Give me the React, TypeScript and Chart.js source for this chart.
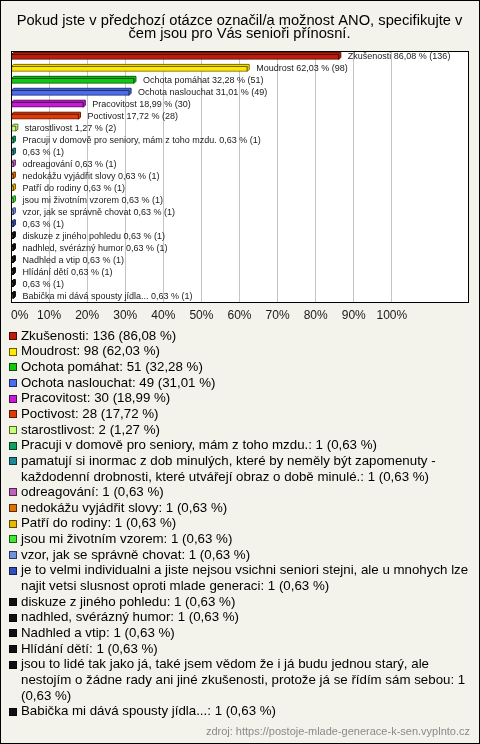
import React, { useEffect, useRef } from 'react';
import { Chart, registerables } from 'chart.js';

Chart.register(...registerables);

const titleLines = [
  'Pokud jste v předchozí otázce označil/a možnost ANO, specifikujte v',
  'čem jsou pro Vás senioři přínosní.',
];

const categories = [
  'Zkušenosti',
  'Moudrost',
  'Ochota pomáhat',
  'Ochota naslouchat',
  'Pracovitost',
  'Poctivost',
  'starostlivost',
  'Pracuji v domově pro seniory, mám z toho mzdu.',
  'pamatují si inormac z dob minulých, které by neměly být zapomenuty - každodenní drobnosti, které utvářejí obraz o době minulé.',
  'odreagování',
  'nedokážu vyjádřit slovy',
  'Patří do rodiny',
  'jsou mi životním vzorem',
  'vzor, jak se správně chovat',
  'je to velmi individualni a jiste nejsou vsichni seniori stejni, ale u mnohych lze najit vetsi slusnost oproti mlade generaci',
  'diskuze z jiného pohledu',
  'nadhled, svérázný humor',
  'Nadhled a vtip',
  'Hlídání dětí',
  'jsou to lidé tak jako já, také jsem vědom že i já budu jednou starý, ale nestojím o žádne rady ani jiné zkušenosti, protože já se řídím sám sebou',
  'Babička mi dává spousty jídla...',
];

const counts = [136, 98, 51, 49, 30, 28, 2, 1, 1, 1, 1, 1, 1, 1, 1, 1, 1, 1, 1, 1, 1];

const percents = [
  86.08, 62.03, 32.28, 31.01, 18.99, 17.72, 1.27, 0.63, 0.63, 0.63, 0.63,
  0.63, 0.63, 0.63, 0.63, 0.63, 0.63, 0.63, 0.63, 0.63, 0.63,
];

const colors = [
  '#c01a08', '#ffe800', '#10c810', '#4a6cf0', '#c818d8', '#e03a08', '#c8ff78',
  '#10a060', '#208898', '#c060c0', '#e07000', '#e8b800', '#40e830', '#7090e0',
  '#3050c0', '#101010', '#101010', '#101010', '#101010', '#101010', '#101010',
];

const xTickValues = [0, 10, 20, 30, 40, 50, 60, 70, 80, 90, 100];

const sourceText = 'zdroj: https://postoje-mlade-generace-k-sen.vyplnto.cz';

const FONT = '"Liberation Sans", Arial, sans-serif';

function fmt(v: number): string {
  return v.toFixed(2).replace('.', ',');
}

function darken(hex: string, f = 0.45): string {
  const n = parseInt(hex.slice(1), 16);
  const r = Math.round(((n >> 16) & 255) * f);
  const g = Math.round(((n >> 8) & 255) * f);
  const b = Math.round((n & 255) * f);
  return `rgb(${r},${g},${b})`;
}

function wrap(ctx: CanvasRenderingContext2D, text: string, maxW: number): string[] {
  const words = text.split(' ');
  const lines: string[] = [];
  let cur = '';
  for (const w of words) {
    const test = cur ? cur + ' ' + w : w;
    if (cur && ctx.measureText(test).width > maxW) {
      lines.push(cur);
      cur = w;
    } else {
      cur = test;
    }
  }
  if (cur) lines.push(cur);
  return lines;
}

const DEPTH = 2;

const decorPlugin = {
  id: 'decor',
  beforeDraw(chart: any) {
    const { ctx, width, height, chartArea } = chart;
    ctx.save();
    ctx.fillStyle = '#f3f3eb';
    ctx.fillRect(0, 0, width, height);
    ctx.strokeStyle = '#000';
    ctx.lineWidth = 1;
    ctx.strokeRect(0.5, 0.5, width - 1, height - 1);
    ctx.fillStyle = '#ffffff';
    ctx.fillRect(chartArea.left, chartArea.top, chartArea.right - chartArea.left, chartArea.bottom - chartArea.top);
    ctx.restore();
  },
  beforeDatasetsDraw(chart: any) {
    const { ctx } = chart;
    const meta = chart.getDatasetMeta(0);
    ctx.save();
    ctx.lineWidth = 1;
    meta.data.forEach((el: any, i: number) => {
      const p = el.getProps(['x', 'y', 'base', 'height'], true);
      const top = p.y - p.height / 2;
      const bottom = p.y + p.height / 2;
      const x0 = p.base;
      const x1 = p.x;
      ctx.beginPath();
      ctx.moveTo(x0, top);
      ctx.lineTo(x0 + DEPTH, top - DEPTH);
      ctx.lineTo(x1 + DEPTH, top - DEPTH);
      ctx.lineTo(x1 + DEPTH, bottom - DEPTH);
      ctx.lineTo(x1, bottom);
      ctx.lineTo(x1, top);
      ctx.closePath();
      ctx.fillStyle = colors[i];
      ctx.fill();
      ctx.strokeStyle = darken(colors[i]);
      ctx.stroke();
    });
    ctx.restore();
  },
  afterDatasetsDraw(chart: any) {
    const { ctx, chartArea } = chart;
    const meta = chart.getDatasetMeta(0);
    ctx.save();
    ctx.font = `9px ${FONT}`;
    ctx.fillStyle = '#1a1a1a';
    ctx.textBaseline = 'middle';
    ctx.textAlign = 'left';
    meta.data.forEach((el: any, i: number) => {
      const p = el.getProps(['x', 'y'], true);
      const name = categories[i].length > 60 ? '' : categories[i] + ' ';
      ctx.fillText(`${name}${fmt(percents[i])} % (${counts[i]})`, p.x + 9, p.y);
    });
    ctx.strokeStyle = '#000';
    ctx.lineWidth = 1;
    ctx.strokeRect(
      Math.round(chartArea.left) + 0.5,
      Math.round(chartArea.top) + 0.5,
      Math.round(chartArea.right - chartArea.left),
      Math.round(chartArea.bottom - chartArea.top)
    );
    ctx.restore();
  },
  afterDraw(chart: any) {
    const { ctx } = chart;
    ctx.save();
    ctx.font = `13.3px ${FONT}`;
    ctx.textBaseline = 'middle';
    ctx.textAlign = 'left';
    const lh = 15.65;
    let y = 336;
    categories.forEach((cat, i) => {
      const text = `${cat}: ${counts[i]} (${fmt(percents[i])} %)`;
      const lines = wrap(ctx, text, 452);
      const by = Math.round(y) - 4;
      ctx.fillStyle = colors[i];
      ctx.fillRect(9, by, 8, 8);
      ctx.strokeStyle = darken(colors[i], 0.4);
      ctx.lineWidth = 1;
      ctx.strokeRect(9.5, by + 0.5, 7, 7);
      ctx.fillStyle = '#000';
      lines.forEach((ln, j) => ctx.fillText(ln, 21, y + j * lh));
      y += lines.length * lh;
    });
    ctx.font = `11px ${FONT}`;
    ctx.fillStyle = '#8a8a8a';
    ctx.textAlign = 'right';
    ctx.fillText(sourceText, 470, 732);
    ctx.restore();
  },
};

export default function App() {
  const canvasRef = useRef<HTMLCanvasElement | null>(null);

  useEffect(() => {
    if (!canvasRef.current) return;
    const chart = new Chart(canvasRef.current, {
      type: 'bar',
      data: {
        labels: categories,
        datasets: [
          {
            data: percents,
            backgroundColor: colors,
            borderColor: colors.map((c) => darken(c)),
            borderWidth: 1,
            borderSkipped: false,
            barThickness: 5,
          },
        ],
      },
      options: {
        indexAxis: 'y',
        responsive: false,
        animation: false,
        events: [],
        layout: { padding: { left: 11, right: 12, top: 0, bottom: 415.6 } },
        plugins: {
          legend: { display: false },
          tooltip: { enabled: false },
          title: {
            display: true,
            text: titleLines,
            color: '#000',
            font: { family: FONT, size: 14.7, weight: 'normal', lineHeight: 0.91 },
            padding: { top: 14.3, bottom: 9.9 },
          },
        },
        scales: {
          x: {
            min: 0,
            max: 120,
            ticks: {
              stepSize: 10,
              callback: (v: any) => (xTickValues.includes(v) ? `${v}%` : ''),
              color: '#1a1a1a',
              font: { family: FONT, size: 12 },
              padding: 6,
              maxRotation: 0,
              autoSkip: false,
              align: 'inner',
            },
            grid: {
              color: (c: any) => (c.tick && xTickValues.includes(c.tick.value) ? '#c4c4c4' : 'rgba(0,0,0,0)'),
              drawTicks: false,
            },
            border: { display: false },
          },
          y: {
            display: false,
          },
        },
      },
      plugins: [decorPlugin],
    } as any);
    return () => chart.destroy();
  }, []);

  return (
    <div style={{ position: 'absolute', left: 0, top: 0, width: 480, height: 744 }}>
      <canvas ref={canvasRef} width={480} height={744} style={{ display: 'block' }} />
    </div>
  );
}
